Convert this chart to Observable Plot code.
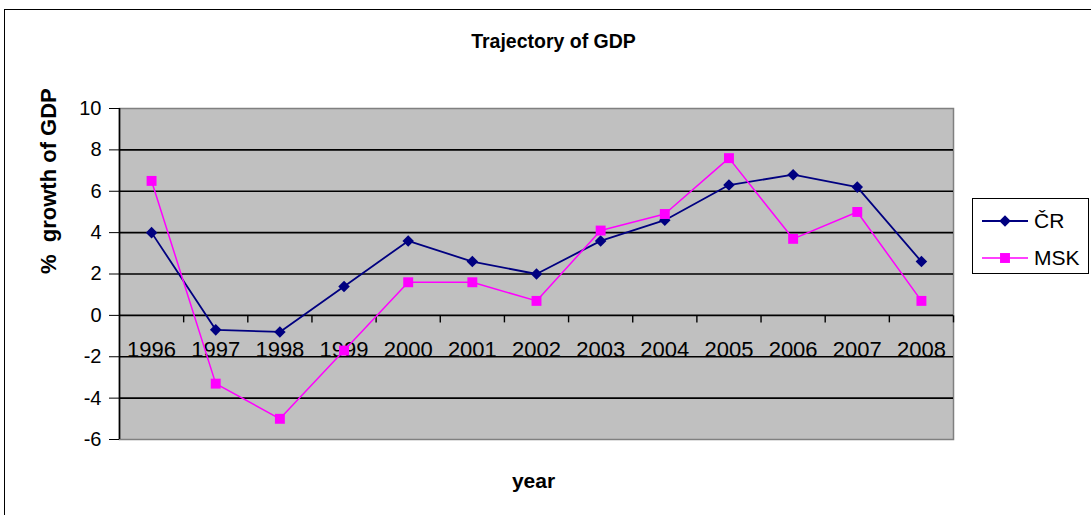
<!DOCTYPE html>
<html>
<head>
<meta charset="utf-8">
<script src="https://cdn.jsdelivr.net/npm/d3@7"></script>
<script src="https://cdn.jsdelivr.net/npm/@observablehq/plot@0.6"></script>
<style>
  html, body { margin: 0; padding: 0; background: #fff; overflow: hidden; }
  #wrap { position: relative; width: 1091px; height: 515px; overflow: hidden; font-family: "Liberation Sans", Arial, sans-serif; }
  #border { position: absolute; left: 4px; top: 9px; width: 1120px; height: 540px; border: 1.5px solid #000; box-sizing: border-box; pointer-events: none; }
  #chart { position: absolute; left: 0; top: 0; }
  #legend { position: absolute; left: 972px; top: 198px; width: 117px; height: 76px; border: 1px solid #000; box-sizing: border-box; background: #fff; }
  .item { position: absolute; left: 0; height: 24px; width: 115px; }
  .item svg { position: absolute; left: 8px; top: 0; }
  .item span { position: absolute; left: 61px; top: 0; line-height: 24px; font-size: 21px; color: #000; }
</style>
</head>
<body>
<div id="wrap">
  <div id="chart"></div>
  <div id="border"></div>
  <div id="legend"></div>
</div>
<script>
// Annual GDP growth (%), Czech Republic vs. Moravian-Silesian Region
const years = [1996, 1997, 1998, 1999, 2000, 2001, 2002, 2003, 2004, 2005, 2006, 2007, 2008];
const cr  = [4.0, -0.7, -0.8, 1.4, 3.6, 2.6, 2.0, 3.6, 4.6, 6.3, 6.8, 6.2, 2.6];
const msk = [6.5, -3.3, -5.0, -1.7, 1.6, 1.6, 0.7, 4.1, 4.9, 7.6, 3.7, 5.0, 0.7];
const yTicks = [-6, -4, -2, 0, 2, 4, 6, 8, 10];

const seriesNames = ["ČR", "MSK"];
const seriesColors = ["#000080", "#ff00ff"];
const seriesSymbols = ["diamond2", "square"];
const seriesRadius = [5.2, 5.6];

// Each year occupies one category slot; points sit in the middle of their slot.
const rowsCR  = years.map((year, i) => ({slot: i + 0.5, year, value: cr[i]}));
const rowsMSK = years.map((year, i) => ({slot: i + 0.5, year, value: msk[i]}));
const slotEdges = d3.range(1, years.length + 1);

// Small downward tick used for the category boundaries on the zero line
const tickDown = {draw(ctx) { ctx.moveTo(0, 0); ctx.lineTo(0, 7); }};

const chart = Plot.plot({
  width: 1091,
  height: 515,
  marginLeft: 119,
  marginRight: 138,
  marginTop: 108,
  marginBottom: 76,
  style: {fontFamily: "'Liberation Sans', Arial, sans-serif", color: "#000", background: "transparent", overflow: "visible"},
  x: {domain: [0, years.length], axis: null},
  y: {domain: [-6, 10], axis: null},
  marks: [
    Plot.frame({fill: "#c0c0c0", stroke: "#808080", strokeWidth: 1.5}),
    Plot.ruleY(yTicks.filter(t => t > -6 && t < 10), {stroke: "#000", strokeWidth: 1.6}),
    Plot.ruleX([0], {stroke: "#000", strokeWidth: 1.6}),
    Plot.axisY(yTicks, {anchor: "left", tickSize: 10, tickPadding: 8, fontSize: 20, label: null, stroke: "#000", fill: "#000", tickFormat: d => String(d)}),
    Plot.dot(slotEdges, {x: d => d, y: 0, symbol: tickDown, fill: "none", stroke: "#000", strokeWidth: 1.4}),
    Plot.text(years, {x: (d, i) => i + 0.5, y: 0, text: d => String(d), dy: 42, lineAnchor: "bottom", fontSize: 22, fill: "#000"}),
    Plot.line(rowsCR, {x: "slot", y: "value", stroke: seriesColors[0], strokeWidth: 1.8}),
    Plot.line(rowsMSK, {x: "slot", y: "value", stroke: seriesColors[1], strokeWidth: 1.5}),
    Plot.dot(rowsCR, {x: "slot", y: "value", symbol: seriesSymbols[0], r: seriesRadius[0], fill: seriesColors[0], stroke: "none"}),
    Plot.dot(rowsMSK, {x: "slot", y: "value", symbol: seriesSymbols[1], r: seriesRadius[1], fill: seriesColors[1], stroke: "none"}),
    Plot.text(["Trajectory of GDP"], {frameAnchor: "top", dx: 17, dy: -61, lineAnchor: "bottom", fontSize: 19.5, fontWeight: "bold", fill: "#000"}),
    Plot.text(["%\u00a0 growth of GDP"], {frameAnchor: "left", dx: -71, rotate: -90, fontSize: 22, fontWeight: "bold", fill: "#000"}),
    Plot.text(["year"], {frameAnchor: "bottom", dx: -3, dy: 48, lineAnchor: "bottom", fontSize: 21, fontWeight: "bold", fill: "#000"})
  ]
});
document.getElementById("chart").appendChild(chart);

// Legend: line swatch with its marker, then the series name
const legend = d3.select("#legend");
seriesNames.forEach((name, k) => {
  const item = legend.append("div").attr("class", "item").style("top", (10 + k * 37) + "px");
  const svg = item.append("svg").attr("width", 48).attr("height", 24);
  svg.append("line").attr("x1", 1).attr("x2", 47).attr("y1", 12).attr("y2", 12)
    .attr("stroke", seriesColors[k]).attr("stroke-width", k === 0 ? 1.8 : 1.5);
  const sym = k === 0 ? d3.symbolDiamond2 : d3.symbolSquare;
  const r = seriesRadius[k];
  svg.append("path").attr("transform", "translate(24,12)")
    .attr("d", d3.symbol(sym, r * r * Math.PI)()).attr("fill", seriesColors[k]);
  item.append("span").text(name);
});
</script>
</body>
</html>
